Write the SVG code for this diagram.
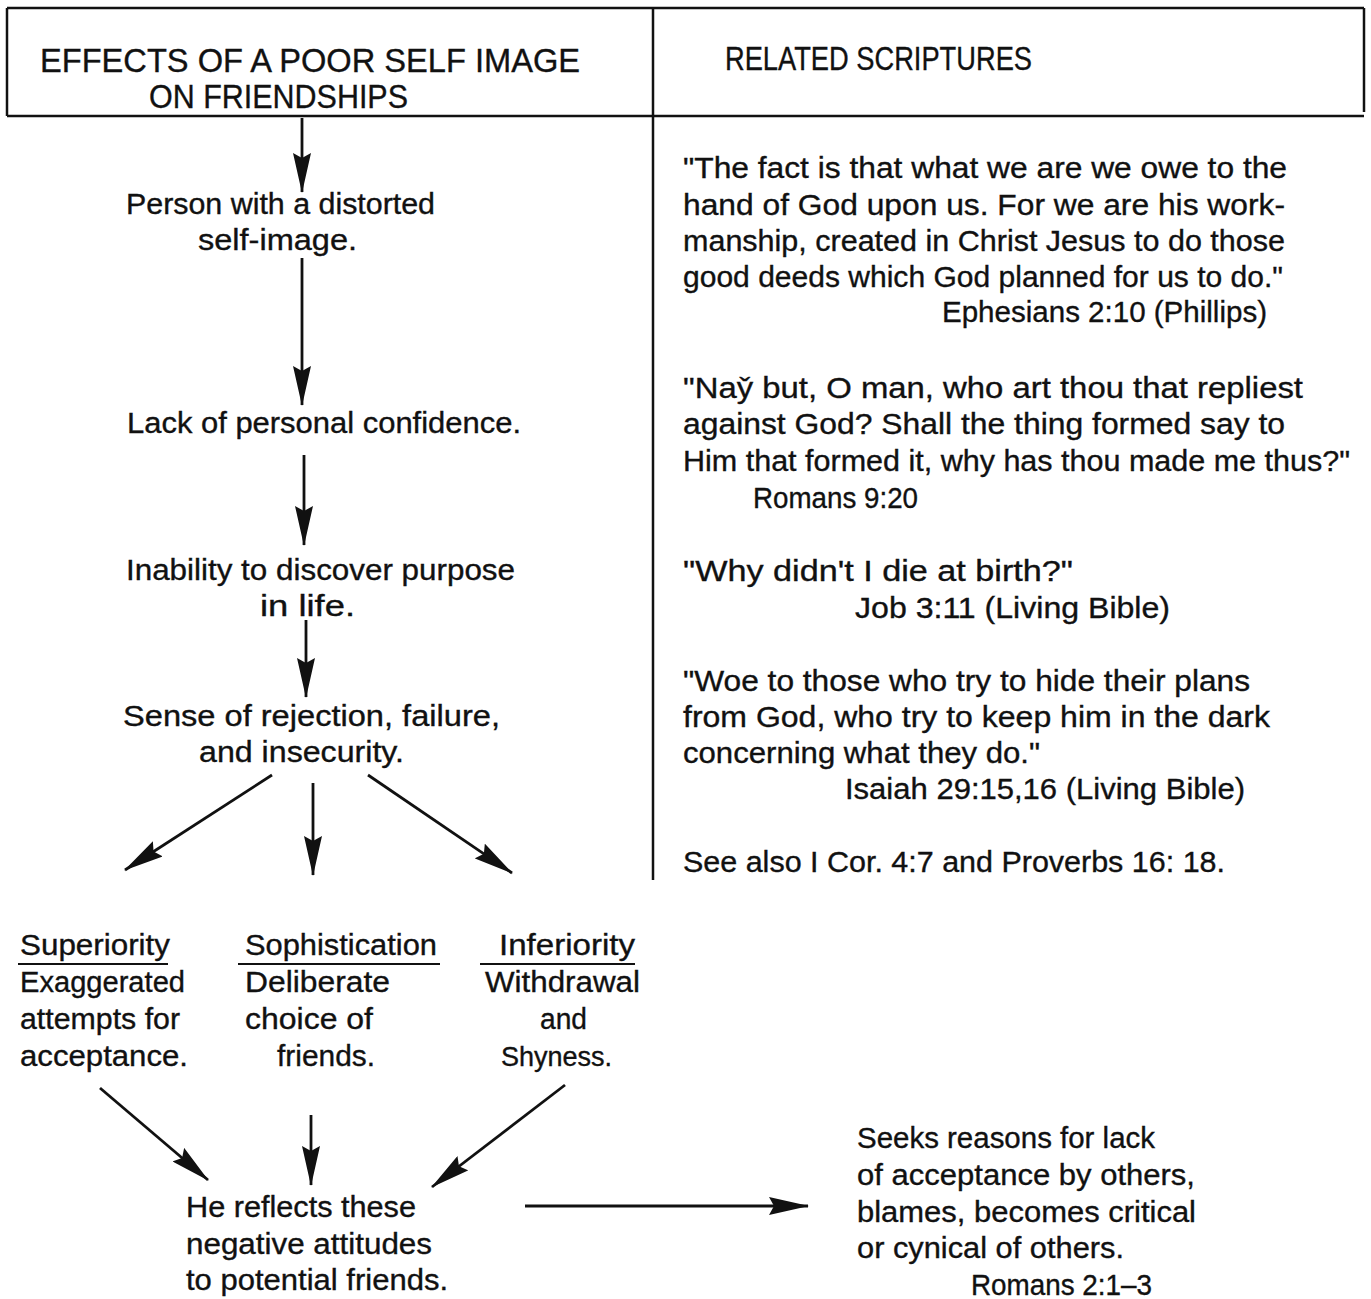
<svg xmlns="http://www.w3.org/2000/svg" width="1371" height="1299" viewBox="0 0 1371 1299">
<style>
text{font-family:"Liberation Sans","DejaVu Sans",sans-serif;font-size:29px;fill:#111;stroke:#111;stroke-width:0.35}
.h{font-size:33px}
.frame{stroke:#111;stroke-width:2.5;fill:none}
.ln{stroke:#111;stroke-width:2.8;fill:none;marker-end:url(#ah)}
.ul{stroke:#111;stroke-width:2}
</style>
<defs>
<marker id="ah" viewBox="0 0 40 18" refX="39" refY="9" markerWidth="40" markerHeight="18" markerUnits="userSpaceOnUse" orient="auto">
<path d="M0,0 L40,9 L0,18 L5,9 z" fill="#111"/>
</marker>
</defs>
<rect width="1371" height="1299" fill="#fff"/>
<g id="frame">
<line class="frame" x1="7" y1="8" x2="1364" y2="8"/>
<line class="frame" x1="7" y1="116" x2="1364" y2="116"/>
<line class="frame" x1="7" y1="8" x2="7" y2="116"/>
<line class="frame" x1="1364" y1="8" x2="1364" y2="112"/>
<line class="frame" x1="653" y1="8" x2="653" y2="880"/>
</g>
<g id="header-left">
<text class="h" x="40" y="72" textLength="540" lengthAdjust="spacingAndGlyphs">EFFECTS  OF  A  POOR  SELF  IMAGE</text>
<text class="h" x="149" y="108" textLength="259" lengthAdjust="spacingAndGlyphs">ON  FRIENDSHIPS</text>
</g>
<g id="header-right">
<text class="h" x="725" y="70" textLength="307" lengthAdjust="spacingAndGlyphs">RELATED  SCRIPTURES</text>
</g>
<g id="n-person">
<text x="126" y="214" textLength="309" lengthAdjust="spacingAndGlyphs">Person with a distorted</text>
<text x="198" y="250" textLength="159" lengthAdjust="spacingAndGlyphs">self-image.</text>
</g>
<g id="n-lack">
<text x="127" y="433" textLength="394" lengthAdjust="spacingAndGlyphs">Lack of personal confidence.</text>
</g>
<g id="n-inability">
<text x="126" y="580" textLength="389" lengthAdjust="spacingAndGlyphs">Inability to discover purpose</text>
<text x="260" y="616" textLength="95" lengthAdjust="spacingAndGlyphs">in life.</text>
</g>
<g id="n-sense">
<text x="123" y="726" textLength="377" lengthAdjust="spacingAndGlyphs">Sense of rejection, failure,</text>
<text x="199" y="762" textLength="205" lengthAdjust="spacingAndGlyphs">and insecurity.</text>
</g>
<g id="n-superiority">
<text x="20" y="955" textLength="150" lengthAdjust="spacingAndGlyphs">Superiority</text>
<line class="ul" x1="18" y1="964" x2="168" y2="964"/>
<text x="20" y="992" textLength="165" lengthAdjust="spacingAndGlyphs">Exaggerated</text>
<text x="20" y="1029" textLength="160" lengthAdjust="spacingAndGlyphs">attempts for</text>
<text x="20" y="1066" textLength="168" lengthAdjust="spacingAndGlyphs">acceptance.</text>
</g>
<g id="n-sophistication">
<text x="245" y="955" textLength="192" lengthAdjust="spacingAndGlyphs">Sophistication</text>
<line class="ul" x1="238" y1="964" x2="440" y2="964"/>
<text x="245" y="992" textLength="145" lengthAdjust="spacingAndGlyphs">Deliberate</text>
<text x="245" y="1029" textLength="128" lengthAdjust="spacingAndGlyphs">choice of</text>
<text x="277" y="1066" textLength="98" lengthAdjust="spacingAndGlyphs">friends.</text>
</g>
<g id="n-inferiority">
<text x="499" y="955" textLength="136" lengthAdjust="spacingAndGlyphs">Inferiority</text>
<line class="ul" x1="480" y1="964" x2="635" y2="964"/>
<text x="485" y="992" textLength="155" lengthAdjust="spacingAndGlyphs">Withdrawal</text>
<text x="540" y="1029" textLength="47" lengthAdjust="spacingAndGlyphs">and</text>
<text x="501" y="1066" style="font-size:27px">Shyness.</text>
</g>
<g id="n-reflects">
<text x="186" y="1217" textLength="230" lengthAdjust="spacingAndGlyphs">He reflects these</text>
<text x="186" y="1254" textLength="246" lengthAdjust="spacingAndGlyphs">negative attitudes</text>
<text x="186" y="1290" textLength="262" lengthAdjust="spacingAndGlyphs">to potential friends.</text>
</g>
<g id="n-seeks">
<text x="857" y="1148" textLength="298" lengthAdjust="spacingAndGlyphs">Seeks reasons for lack</text>
<text x="857" y="1185" textLength="338" lengthAdjust="spacingAndGlyphs">of acceptance by others,</text>
<text x="857" y="1222" textLength="339" lengthAdjust="spacingAndGlyphs">blames, becomes critical</text>
<text x="857" y="1258" textLength="267" lengthAdjust="spacingAndGlyphs">or cynical of others.</text>
<text x="971" y="1295" textLength="181" lengthAdjust="spacingAndGlyphs">Romans 2:1–3</text>
</g>
<g id="s-ephesians">
<text x="683" y="178" textLength="604" lengthAdjust="spacingAndGlyphs">"The fact is that what we are we owe to the</text>
<text x="683" y="215" textLength="602" lengthAdjust="spacingAndGlyphs">hand of God upon us.  For we are his work-</text>
<text x="683" y="251" textLength="602" lengthAdjust="spacingAndGlyphs">manship, created in Christ Jesus to do those</text>
<text x="683" y="287" textLength="600" lengthAdjust="spacingAndGlyphs">good deeds which God planned for us to do."</text>
<text x="942" y="322" textLength="325" lengthAdjust="spacingAndGlyphs">Ephesians 2:10 (Phillips)</text>
</g>
<g id="s-romans">
<text x="683" y="398" textLength="620" lengthAdjust="spacingAndGlyphs">"Nay̌ but, O man, who art thou that repliest</text>
<text x="683" y="434" textLength="602" lengthAdjust="spacingAndGlyphs">against God?  Shall the thing formed say to</text>
<text x="683" y="471" textLength="667" lengthAdjust="spacingAndGlyphs">Him that formed it, why has thou made me thus?"</text>
<text x="753" y="508" textLength="165" lengthAdjust="spacingAndGlyphs">Romans 9:20</text>
</g>
<g id="s-job">
<text x="683" y="581" textLength="390" lengthAdjust="spacingAndGlyphs">"Why didn't I die at birth?"</text>
<text x="855" y="618" textLength="315" lengthAdjust="spacingAndGlyphs">Job 3:11 (Living Bible)</text>
</g>
<g id="s-isaiah">
<text x="683" y="691" textLength="567" lengthAdjust="spacingAndGlyphs">"Woe to those who try to hide their plans</text>
<text x="683" y="727" textLength="587" lengthAdjust="spacingAndGlyphs">from God, who try to keep him in the dark</text>
<text x="683" y="763" textLength="357" lengthAdjust="spacingAndGlyphs">concerning what they do."</text>
<text x="845" y="799" textLength="400" lengthAdjust="spacingAndGlyphs">Isaiah 29:15,16 (Living Bible)</text>
</g>
<g id="s-seealso">
<text x="683" y="872" textLength="542" lengthAdjust="spacingAndGlyphs">See also I Cor. 4:7 and Proverbs 16: 18.</text>
</g>
<g id="connectors">
<line class="ln" x1="302" y1="118" x2="302" y2="192"/>
<line class="ln" x1="302" y1="258" x2="302" y2="405"/>
<line class="ln" x1="304" y1="455" x2="304" y2="545"/>
<line class="ln" x1="306" y1="620" x2="306" y2="697"/>
<line class="ln" x1="272" y1="775" x2="125" y2="870"/>
<line class="ln" x1="313" y1="783" x2="313" y2="875"/>
<line class="ln" x1="368" y1="775" x2="512" y2="873"/>
<line class="ln" x1="100" y1="1088" x2="208" y2="1180"/>
<line class="ln" x1="311" y1="1115" x2="311" y2="1185"/>
<line class="ln" x1="565" y1="1085" x2="432" y2="1187"/>
<line class="ln" x1="525" y1="1206" x2="808" y2="1206"/>
</g>
</svg>
